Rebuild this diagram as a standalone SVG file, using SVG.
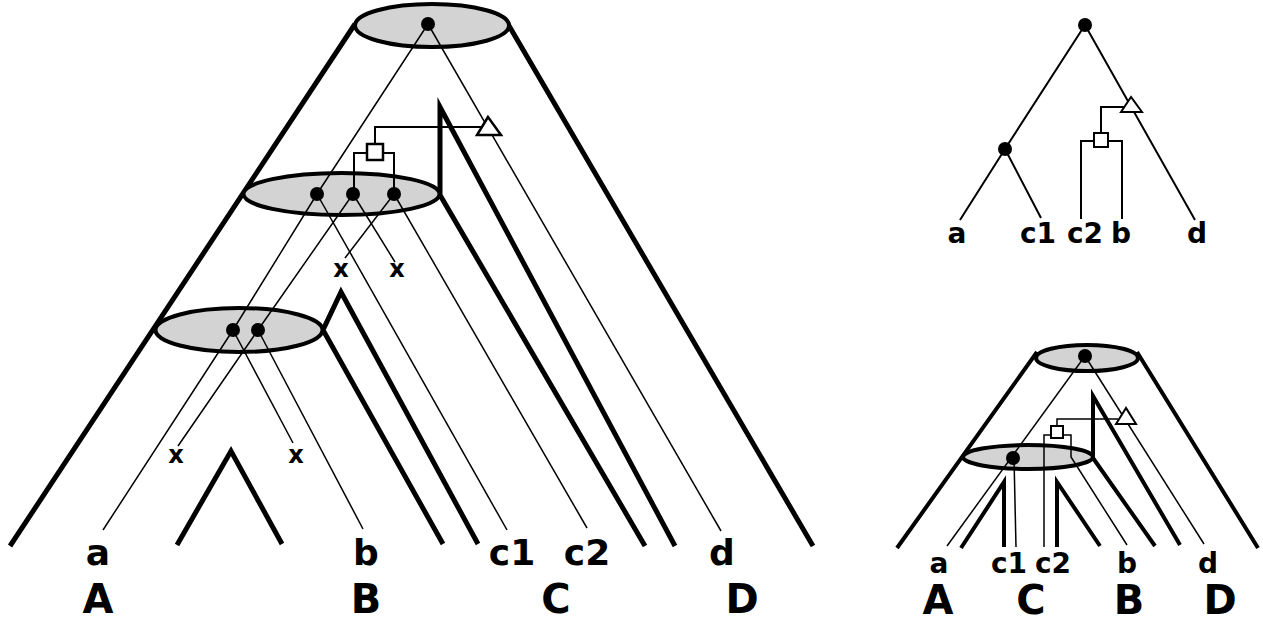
<svg xmlns="http://www.w3.org/2000/svg" width="1263" height="624" viewBox="0 0 1263 624">
<style>
.thick{fill:none;stroke:#000;stroke-width:5;stroke-linejoin:miter;stroke-miterlimit:10}
.thin{fill:none;stroke:#000;stroke-width:1.5}
.med{fill:none;stroke:#000;stroke-width:2}
.ell{fill:#d3d3d3;stroke:#000;stroke-width:4}
.dot{fill:#000}
.sym{fill:#fff;stroke:#000;stroke-width:2.5}
text{font-family:"DejaVu Sans",sans-serif;font-weight:bold;text-anchor:middle;fill:#000}
.lab{font-size:36px}
.sp{font-size:40px}
.xm{font-size:24px}
.lab2{font-size:28px}
.lab3{font-size:28px}
.sp3{font-size:40px}
</style>
<g id="left-species">
<path class="thick" d="M355,24 L10,546 M508,24 L813,546"/>
<path class="thick" d="M443,544 L323,330 L341,292 L478,544"/>
<path class="thick" d="M645,546 L440,195 L440,107 L675,546"/>
<path class="thick" d="M177,545 L231,451 L282,544"/>
</g>
<g id="left-root-ellipse"><ellipse class="ell" cx="432" cy="25.5" rx="77" ry="21.5"/></g>
<g id="left-mid-ellipse"><ellipse class="ell" cx="341.5" cy="194" rx="98" ry="21"/></g>
<g id="left-low-ellipse"><ellipse class="ell" cx="239" cy="330" rx="83.5" ry="22"/></g>
<g id="connectors">
<polyline class="thin" points="428,24 317,194 233,330 103,530"/>
<path class="thin" d="M317,194 L507,530"/>
<path class="thin" d="M353,194 L258,330 L178,446"/>
<path class="thin" d="M258,330 L363,529"/>
<path class="thin" d="M233,330 L293,443"/>
<path class="thin" d="M353,194 L395,262"/>
<path class="thin" d="M394,194 L345,258"/>
<path class="thin" d="M394,194 L587,528"/>
<path class="thin" d="M428,24 L721,531"/>
<path class="med" d="M354,194 V153 H367 M383,153 H394 V194 M375,144 V127 H482"/>
<path class="med" d="M1085,25 L1005,149 L960,220 M1005,149 L1041,218 M1085,25 L1195,220"/>
<path class="med" d="M1101,133 V107 H1124 M1094,141 H1081 V219 M1108,141 H1122 V219"/>
</g>
<g id="left-nodes">
<circle class="dot" cx="428" cy="24" r="7"/>
<circle class="dot" cx="317" cy="194" r="7"/>
<circle class="dot" cx="353" cy="194" r="7"/>
<circle class="dot" cx="394" cy="194" r="7"/>
<circle class="dot" cx="233" cy="330" r="7"/>
<circle class="dot" cx="258" cy="330" r="7"/>
<rect class="sym" x="367" y="144" width="16" height="16"/>
<polygon class="sym" points="488,117 477,135 501,135"/>
</g>
<g id="left-labels">
<text class="xm" x="341" y="277">x</text>
<text class="xm" x="397" y="277">x</text>
<text class="xm" x="176" y="463">x</text>
<text class="xm" x="296" y="463">x</text>
<text class="lab" x="98" y="565">a</text>
<text class="lab" x="366" y="565">b</text>
<text class="lab" x="512" y="565">c1</text>
<text class="lab" x="587" y="565">c2</text>
<text class="lab" x="722" y="565">d</text>
<text class="sp" x="98" y="613">A</text>
<text class="sp" x="366" y="613">B</text>
<text class="sp" x="556" y="613">C</text>
<text class="sp" x="742" y="613">D</text>
</g>
<g id="tr-nodes">
<circle class="dot" cx="1085" cy="25" r="7"/>
<circle class="dot" cx="1005" cy="149" r="7"/>
<rect class="sym" x="1094" y="133" width="14" height="14" style="stroke-width:2"/>
<polygon class="sym" points="1131,97 1121,112 1142,112" style="stroke-width:2"/>
</g>
<g id="tr-labels">
<text class="lab2" x="957" y="243">a</text>
<text class="lab2" x="1038" y="243">c1</text>
<text class="lab2" x="1085" y="243">c2</text>
<text class="lab2" x="1121" y="243">b</text>
<text class="lab2" x="1197" y="243">d</text>
</g>
<g id="br-species">
<path class="thick" style="stroke-width:4" d="M1037,352 L897,548 M1137,352 L1258,548"/>
<path class="thick" style="stroke-width:4" d="M1093,458 V396 L1180,545 M1093,458 L1155,546"/>
<path class="thick" style="stroke-width:4" d="M961,548 L1004,482 L1004,547 M1057,547 V482 L1100,546"/>
</g>
<g id="br-root-ellipse"><ellipse class="ell" cx="1087" cy="358" rx="51" ry="13"/></g>
<g id="br-mid-ellipse"><ellipse class="ell" cx="1028" cy="457" rx="65" ry="12"/></g>
<g id="br-connectors">
<path class="thin" d="M1085,356 L947,546"/>
<path class="thin" d="M1014,458 L1016,547"/>
<path class="thin" d="M1051,435 H1044 V547"/>
<path class="thin" d="M1063,435 H1071 V457 L1127,545"/>
<path class="thin" d="M1085,356 L1204,544"/>
<path class="thin" d="M1057,426 V419 H1118"/>
</g>
<g id="br-nodes">
<circle class="dot" cx="1085" cy="356" r="7"/>
<circle class="dot" cx="1013" cy="458" r="7"/>
<rect class="sym" x="1051" y="426" width="12" height="12" style="stroke-width:2"/>
<polygon class="sym" points="1126,408 1116,424 1136,424" style="stroke-width:2"/>
</g>
<g id="br-labels">
<text class="lab3" x="939" y="573">a</text>
<text class="lab3" x="1009" y="573">c1</text>
<text class="lab3" x="1053" y="573">c2</text>
<text class="lab3" x="1127" y="573">b</text>
<text class="lab3" x="1208" y="573">d</text>
<text class="sp3" x="938" y="614">A</text>
<text class="sp3" x="1031" y="614">C</text>
<text class="sp3" x="1129" y="614">B</text>
<text class="sp3" x="1220" y="614">D</text>
</g>
</svg>
